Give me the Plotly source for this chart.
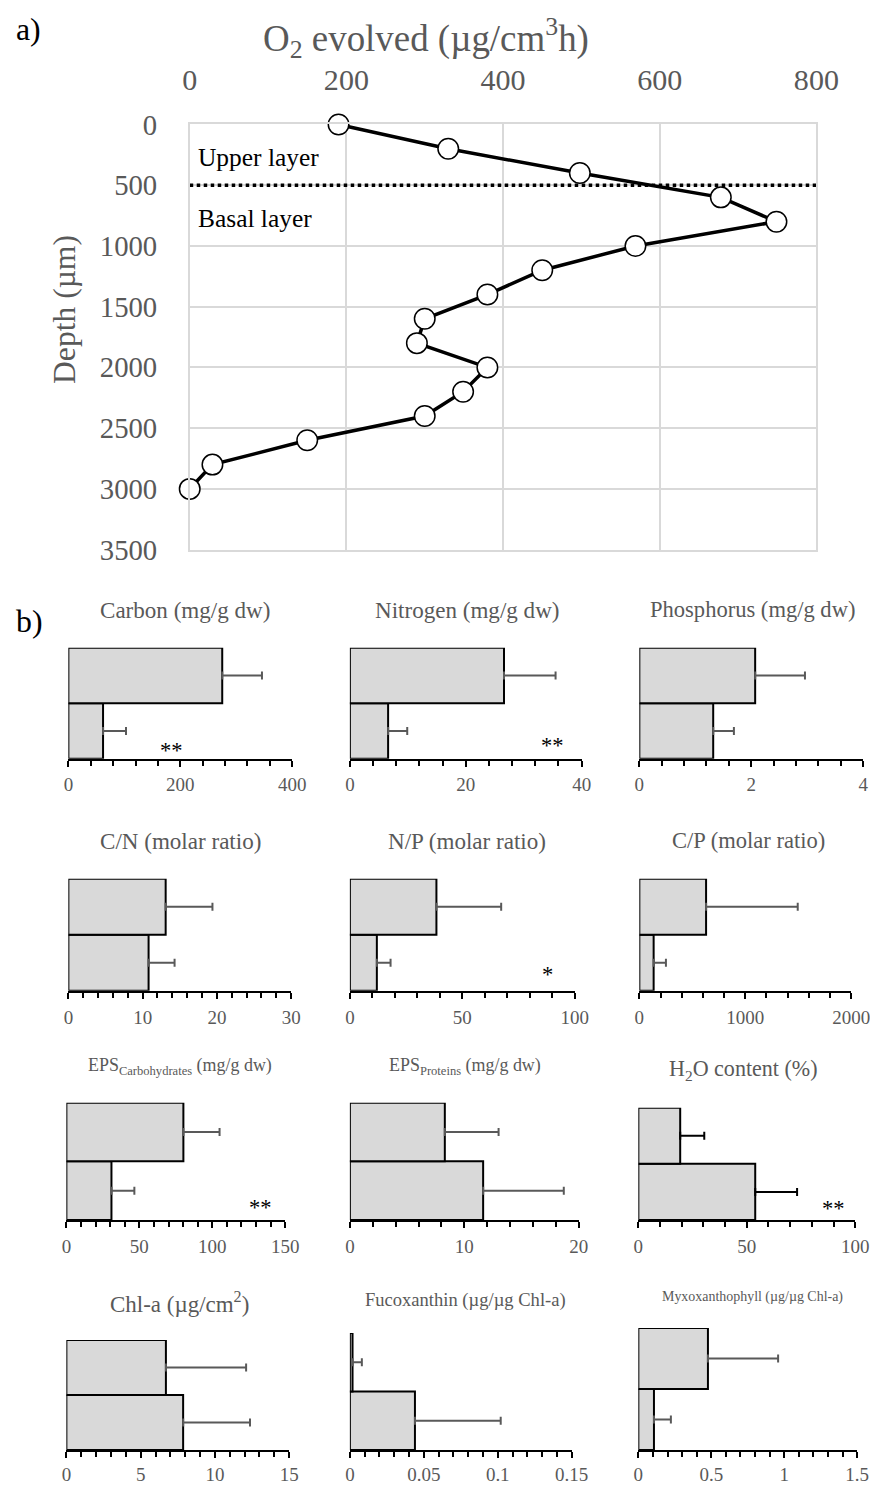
import plotly.graph_objects as go

# Figure canvas (the page body adds an 8 px margin). Positions below are given in
# picture pixels and converted to paper fractions through the observed render mapping.
W, H = 883, 1486
OFF = 8
SX, BX = 0.970, 5.6      # picture_x = SX * page_x + BX
SY, BY = 0.984 * 0.994, 11.0 * 0.994 + 4.8   # picture_y = SY * page_y + BY
S = 1 / 0.975            # font compensation
FONT = "Liberation Serif"
GRAY = "#595959"

# ---------------- Panel a data ----------------
o2_evolved = [190, 330, 498, 678, 749, 569, 450, 380, 300, 290, 380, 349, 300, 150, 29, 0]
depth_um = [0, 200, 400, 600, 800, 1000, 1200, 1400, 1600, 1800, 2000, 2200, 2400, 2600, 2800, 3000]
layer_boundary_um = 500
o2_ticks = [0, 200, 400, 600, 800]
depth_ticks = [0, 500, 1000, 1500, 2000, 2500, 3000, 3500]

# ---------------- Panel b data ----------------
# bar order: [Basal layer (bottom bar), Upper layer (top bar)]
layer_pos = [0, 1]
titles = [
    "Carbon (mg/g dw)", "Nitrogen (mg/g dw)", "Phosphorus (mg/g dw)",
    "C/N (molar ratio)", "N/P (molar ratio)", "C/P (molar ratio)",
    "EPS<sub>Carbohydrates</sub> (mg/g dw)", "EPS<sub>Proteins</sub> (mg/g dw)", "H<sub>2</sub>O content (%)",
    "Chl-a (µg/cm<sup>2</sup>)", "Fucoxanthin (µg/µg Chl-a)", "Myxoxanthophyll (µg/µg Chl-a)",
]
upper_mean = [275, 26.6, 2.07, 13.1, 38.5, 630, 80.2, 8.3, 19.3, 6.7, 0.0018, 0.477]
upper_sd = [71, 8.9, 0.89, 6.3, 28.8, 865, 24.8, 4.7, 11.1, 5.4, 0.0063, 0.481]
basal_mean = [62, 6.6, 1.32, 10.8, 12.0, 135, 30.9, 11.65, 53.9, 7.86, 0.044, 0.107]
basal_sd = [41, 3.3, 0.37, 3.5, 6.1, 116, 15.7, 7.05, 19.3, 4.5, 0.058, 0.116]
axis_max = [400, 40, 4, 30, 100, 2000, 150, 20, 100, 15, 0.15, 1.5]
major_step = [200, 20, 2, 10, 50, 1000, 50, 10, 50, 5, 0.05, 0.5]
minor_step = [40, 4, 0.4, 2, 10, 200, 10, 2, 10, 1, 0.01, 0.1]
significance = ["**", "**", "", "", "*", "", "**", "", "**", "", "", ""]
sig_value = [185, 35, None, None, 88, None, 133, None, 90, None, None, None]


# ---------------- layout helpers ----------------
def fx(px):
    return ((px - BX) / SX - OFF) / W


def fy(py):
    return 1 - ((py - BY) / SY - OFF) / H


def px_dom_x(x0, x1):
    return [fx(x0), fx(x1)]


def px_dom_y(top, bottom):
    return [fy(bottom), fy(top)]


# small panel boxes: (left, right, top, bottom)
boxes = [
    (66, 291, 647, 758), (349, 582, 647, 758), (640, 865, 647, 758),
    (66, 290, 878, 990), (349, 575, 878, 990), (640, 853, 878, 990),
    (64, 284, 1102, 1219), (349, 579, 1102, 1219), (639, 857, 1107, 1219),
    (64, 288, 1339, 1449), (349, 572, 1332, 1449), (639, 859, 1327, 1449),
]
tick_standoff = [2, 2, 2, 2, 2, 2, 2, 2, 2, 0, 0, 0]
title_pos = [
    (183, 609, 22.5), (467, 609, 22.5), (754, 609, 22.0),
    (179, 840, 22.5), (467, 840, 22.5), (750, 840, 22.0),
    (178, 1066, 17.5), (465, 1066, 17.5), (745, 1069, 21.5),
    (178, 1302, 22.4), (465, 1299, 18.1), (754, 1296, 13.6),
]
sig_y = [-0.36, -0.27, None, None, -0.21, None, -0.29, None, -0.30, None, None, None]

fig = go.Figure()

# ---------------- Panel a ----------------
fig.add_trace(go.Scatter(
    x=[0, 800], y=[layer_boundary_um, layer_boundary_um], mode="lines",
    line=dict(color="black", width=3.5, dash="dot"), xaxis="x", yaxis="y",
    showlegend=False, hoverinfo="skip", cliponaxis=False))
fig.add_trace(go.Scatter(
    x=o2_evolved, y=depth_um, mode="lines+markers",
    line=dict(color="black", width=3.5),
    marker=dict(size=20.5, color="white", line=dict(color="black", width=1.5)),
    xaxis="x", yaxis="y", showlegend=False, cliponaxis=False))

layout = dict(
    width=W, height=H, margin=dict(l=0, r=0, t=0, b=0),
    paper_bgcolor="white", plot_bgcolor="white", showlegend=False,
    font=dict(family=FONT, color=GRAY),
    xaxis=dict(domain=px_dom_x(188, 818), range=[0, 800], side="top", anchor="y",
               tickvals=o2_ticks, showgrid=True, gridcolor="#d9d9d9", gridwidth=1.5,
               showline=True, linecolor="#d9d9d9", linewidth=1.5, mirror=True,
               zeroline=False, ticks="", ticklabelstandoff=21,
               tickfont=dict(size=29.3 * S, color=GRAY, family=FONT)),
    yaxis=dict(domain=px_dom_y(124, 549), range=[3500, 0], anchor="x",
               tickvals=depth_ticks, showgrid=True, gridcolor="#d9d9d9", gridwidth=1.5,
               showline=True, linecolor="#d9d9d9", linewidth=1.5, mirror=True,
               zeroline=False, ticks="", ticklabelstandoff=25,
               tickfont=dict(size=28 * S, color=GRAY, family=FONT)),
)

annotations = [
    dict(text="a)", x=fx(11), y=fy(29), xref="paper", yref="paper", xanchor="left",
         yanchor="middle", showarrow=False, font=dict(size=31 * S, color="black", family=FONT)),
    dict(text="b)", x=fx(11), y=fy(621), xref="paper", yref="paper", xanchor="left",
         yanchor="middle", showarrow=False, font=dict(size=31 * S, color="black", family=FONT)),
    # axis titles of panel a
    dict(text="O<sub>2</sub> evolved (µg/cm<sup>3</sup>h)", x=fx(426), y=fy(38),
         xref="paper", yref="paper", xanchor="center", yanchor="middle", showarrow=False,
         font=dict(size=36 * S, color=GRAY, family=FONT)),
    dict(text="Depth (µm)", x=fx(62), y=fy(309), textangle=-90,
         xref="paper", yref="paper", xanchor="center", yanchor="middle", showarrow=False,
         font=dict(size=30.8 * S, color=GRAY, family=FONT)),
    dict(text="Upper layer", x=8, y=272, xref="x", yref="y", xanchor="left", yanchor="middle",
         showarrow=False, font=dict(size=24.8 * S, color="black", family=FONT)),
    dict(text="Basal layer", x=8, y=774, xref="x", yref="y", xanchor="left", yanchor="middle",
         showarrow=False, font=dict(size=24.8 * S, color="black", family=FONT)),
]

# ---------------- Panel b ----------------
for i in range(12):
    n = i + 2
    xa, ya = f"x{n}", f"y{n}"
    err_color = "black" if i == 8 else GRAY
    fig.add_trace(go.Bar(
        x=[basal_mean[i], upper_mean[i]], y=layer_pos, orientation="h", width=1,
        marker=dict(color="#d9d9d9", line=dict(color="black", width=2)),
        error_x=dict(type="data", symmetric=False, array=[basal_sd[i], upper_sd[i]],
                     arrayminus=[0, 0], color=err_color, thickness=2, width=4),
        xaxis=xa, yaxis=ya, showlegend=False, cliponaxis=False))
    l, r, t, b = boxes[i]
    layout[f"xaxis{n}"] = dict(
        domain=px_dom_x(l, r), range=[0, axis_max[i]], anchor=ya, dtick=major_step[i], tick0=0,
        showgrid=False, zeroline=False, showline=True, linecolor="black", linewidth=2,
        ticks="outside", ticklen=6, tickwidth=2, tickcolor="black",
        minor=dict(dtick=minor_step[i], tick0=0, ticks="outside", ticklen=5, tickwidth=1.5,
                   tickcolor="black"),
        ticklabelstandoff=tick_standoff[i], tickfont=dict(size=18.5 * S, color=GRAY, family=FONT))
    layout[f"yaxis{n}"] = dict(domain=px_dom_y(t, b), range=[-0.5, 1.5], anchor=xa,
                               visible=False, fixedrange=True)
    cx, cy, fs = title_pos[i]
    annotations.append(dict(text=titles[i], x=fx(cx), y=fy(cy), xref="paper", yref="paper",
                            xanchor="center", yanchor="middle", showarrow=False,
                            font=dict(size=fs * S, color=GRAY, family=FONT)))
    if significance[i]:
        annotations.append(dict(text=significance[i], x=sig_value[i], y=sig_y[i], xref=xa, yref=ya,
                                xanchor="center", yanchor="middle", showarrow=False,
                                font=dict(size=22 * S, color="black", family=FONT)))

layout["annotations"] = annotations
fig.update_layout(**layout)
fig.write_html("out.html")
